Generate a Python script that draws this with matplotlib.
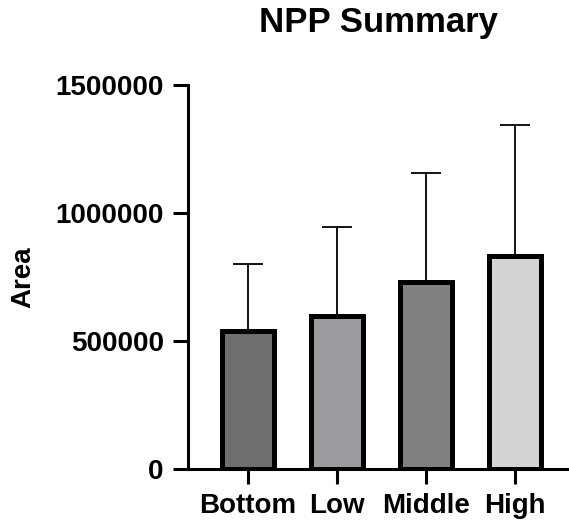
import matplotlib
matplotlib.use('Agg')
import matplotlib.pyplot as plt
import numpy as np

# group means and upper error (SD)
groups = ['Bottom', 'Low', 'Middle', 'High']
means = [540000, 596000, 732000, 831000]
sd = [262000, 350000, 424000, 512000]
colors = ['#6e6e6e', '#9b9a9f', '#808080', '#d3d3d3']
yticks = [0, 500000, 1000000, 1500000]

plt.rcParams['font.family'] = ['Liberation Sans', 'DejaVu Sans']
plt.rcParams['font.weight'] = 'bold'

fig = plt.figure(figsize=(5.69, 5.27), dpi=100)
ax = fig.add_axes([0.3304, 0.1101, 0.6696, 0.7287])

x = np.arange(len(groups))

# error bars first so the lower half hides behind the bars
ax.errorbar(x, means, yerr=[np.zeros(len(sd)), sd], fmt='none',
            ecolor='black', elinewidth=1.3, capsize=11, capthick=1.3, zorder=1)
ax.bar(x, means, width=0.59, color=colors, edgecolor='black',
       linewidth=3.6, zorder=2)

ax.set_xlim(-0.674, 3.607)
ax.set_ylim(0, 1500000)
ax.set_xticks(x)
ax.set_xticklabels(groups, fontsize=20, fontweight='bold')
ax.set_yticks(yticks)
ax.set_yticklabels([str(v) for v in yticks], fontsize=20, fontweight='bold')

ax.spines['top'].set_visible(False)
ax.spines['right'].set_visible(False)
ax.spines['left'].set_linewidth(2.2)
ax.spines['bottom'].set_linewidth(2.2)
ax.tick_params(axis='both', width=2.2, length=10.5, pad=7)

ax.set_ylabel('Area', fontsize=20, fontweight='bold', labelpad=14)
ax.set_title('NPP Summary', fontsize=25, fontweight='bold', pad=38)

fig.savefig('out.png', dpi=100)
